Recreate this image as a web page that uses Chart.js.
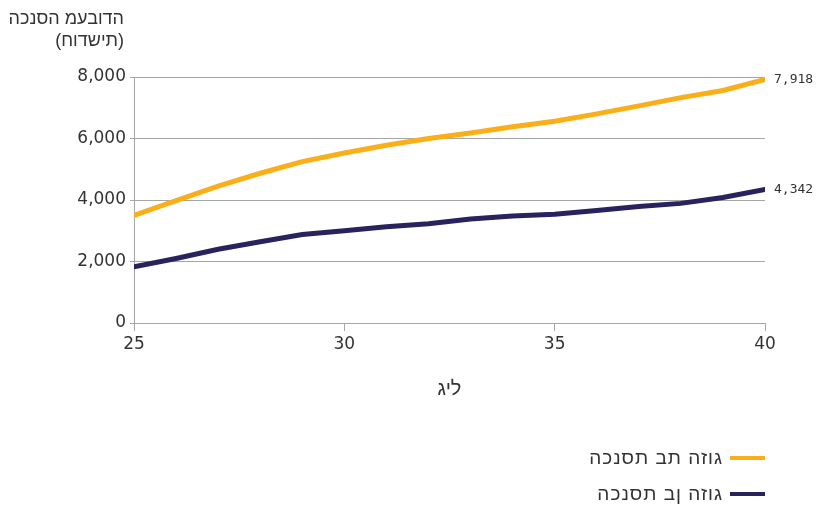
<!DOCTYPE html>
<html>
<head>
<meta charset="utf-8">
<script src="https://cdn.jsdelivr.net/npm/chart.js@4"></script>
<style>
  html, body { margin: 0; padding: 0; background: #fff; }
  #wrap { width: 816px; height: 505px; position: relative; }
</style>
</head>
<body>
<div id="wrap"><canvas id="c" width="816" height="505"></canvas></div>
<script>
const ages = [25, 26, 27, 28, 29, 30, 31, 32, 33, 34, 35, 36, 37, 38, 39, 40];
const wifeIncome = [3500, 3980, 4450, 4870, 5250, 5530, 5780, 6000, 6180, 6380, 6560, 6800, 7060, 7330, 7560, 7918];
const husbandIncome = [1830, 2100, 2400, 2640, 2880, 3000, 3130, 3230, 3380, 3480, 3540, 3660, 3790, 3890, 4080, 4342];
const seriesNames = ['הכנסת בת הזוג', 'הכנסת בן הזוג'];
const seriesColors = ['#FAAF19', '#28225E'];
const yTicks = [0, 2000, 4000, 6000, 8000];
const xTicks = [25, 30, 35, 40];
const yTitle = ['הכנסה מעבודה', '(חודשית)'];
const xTitle = 'גיל';

const FONT = "'DejaVu Sans', sans-serif";
const HEB = "'Liberation Sans', 'DejaVu Sans', sans-serif";
const TEXT = '#333333';
const GRID = '#A6A6A6';

const fmt = v => v.toLocaleString('en-US');
// the reference shows the Hebrew labels in left-to-right visual order
const ltr = s => '\u202D' + s + '\u202C';

const extras = {
  id: 'extras',
  afterDatasetsDraw(chart) {
    const ctx = chart.ctx;
    const xs = chart.scales.x, ys = chart.scales.y;
    ctx.save();
    ctx.direction = 'ltr';
    // end value labels
    ctx.font = "13px 'DejaVu Sans Mono', monospace";
    ctx.fillStyle = TEXT;
    ctx.textAlign = 'left';
    ctx.textBaseline = 'middle';
    chart.data.datasets.forEach(ds => {
      const last = ds.data[ds.data.length - 1];
      ctx.fillText(fmt(last.y), xs.getPixelForValue(last.x) + 9, ys.getPixelForValue(last.y));
    });
    // y title
    ctx.font = "18px " + HEB;
    ctx.textAlign = 'right';
    ctx.fillText(ltr(yTitle[0]), 124, 19);
    ctx.fillText(ltr(yTitle[1]), 124, 41);
    // legend
    const legendY = [458, 494];
    chart.data.datasets.forEach((ds, i) => {
      ctx.strokeStyle = ds.borderColor;
      ctx.lineWidth = 4;
      ctx.beginPath();
      ctx.moveTo(730, legendY[i]);
      ctx.lineTo(765, legendY[i]);
      ctx.stroke();
      ctx.fillStyle = TEXT;
      ctx.font = "19px " + HEB;
      ctx.letterSpacing = '1px';
      ctx.fillText(ltr(ds.label), 723, legendY[i] + 1);
      ctx.letterSpacing = '0px';
    });
    ctx.restore();
  }
};

new Chart(document.getElementById('c'), {
  type: 'line',
  data: {
    datasets: [
      { label: seriesNames[0], data: ages.map((a, i) => ({x: a, y: wifeIncome[i]})),
        borderColor: seriesColors[0], backgroundColor: seriesColors[0], borderWidth: 5, pointRadius: 0, tension: 0, borderCapStyle: 'round' },
      { label: seriesNames[1], data: ages.map((a, i) => ({x: a, y: husbandIncome[i]})),
        borderColor: seriesColors[1], backgroundColor: seriesColors[1], borderWidth: 5, pointRadius: 0, tension: 0, borderCapStyle: 'round' }
    ]
  },
  options: {
    responsive: false,
    animation: false,
    events: [],
    layout: { padding: { left: 0, right: 51, top: 77, bottom: 102 } },
    plugins: { legend: { display: false }, tooltip: { enabled: false } },
    scales: {
      x: {
        type: 'linear', min: 25, max: 40,
        afterBuildTicks: s => { s.ticks = xTicks.map(v => ({value: v})); },
        afterFit: s => { s.height = 80; },
        grid: { drawOnChartArea: false, drawTicks: true, tickLength: 8, color: GRID, lineWidth: 1 },
        border: { display: true, color: GRID },
        ticks: { color: TEXT, font: { family: FONT, size: 17 }, padding: 3, maxRotation: 0, callback: v => String(v) },
        title: { display: true, text: ltr(xTitle), color: TEXT, font: { family: HEB, size: 20 }, padding: { top: 0, bottom: 2 } }
      },
      y: {
        min: 0, max: 8000,
        afterBuildTicks: s => { s.ticks = yTicks.map(v => ({value: v})); },
        afterFit: s => { s.width = 134; },
        grid: { color: GRID, lineWidth: 1, tickLength: 4 },
        border: { display: true, color: GRID },
        ticks: { color: TEXT, font: { family: FONT, size: 17 }, padding: 4, callback: v => fmt(v) }
      }
    }
  },
  plugins: [extras]
});
</script>
</body>
</html>
